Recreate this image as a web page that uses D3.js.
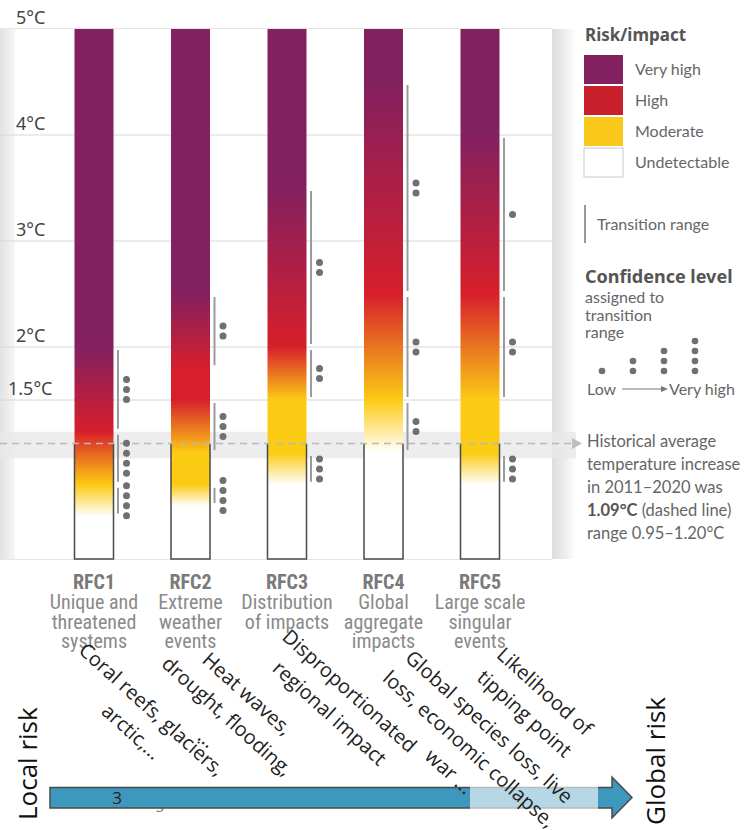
<!DOCTYPE html>
<html>
<head>
<meta charset="utf-8">
<script src="https://cdn.jsdelivr.net/npm/d3@7"></script>
<style>
  html, body { margin: 0; padding: 0; background: #fff; }
  svg { display: block; }
  .tick-label { font-family: "Noto Sans", "Open Sans", sans-serif; font-size: 18px; fill: #444; }
  .cat-head { font-family: "Roboto", sans-serif; font-stretch: condensed; font-weight: bold; font-size: 20px; fill: #7a7a7a; }
  .cat-sub { font-family: "Roboto", sans-serif; font-stretch: condensed; font-size: 20px; fill: #8a8a8a; }
  .legend-title { font-family: "Noto Sans", "Open Sans", sans-serif; font-weight: bold; font-size: 17px; fill: #555; }
  .legend-text { font-family: "Lato", "Noto Sans", sans-serif; font-size: 16px; fill: #666; }
  .note { font-family: "Open Sans", "Noto Sans", sans-serif; font-size: 20px; fill: #222; }
  .axis-end { font-family: "Open Sans", "Noto Sans", sans-serif; font-size: 26px; fill: #111; }
</style>
</head>
<body>
<svg id="chart" width="744" height="830"></svg>
<script>
// Reasons for concern (RFC) and their descriptions
const categories = ["RFC1", "RFC2", "RFC3", "RFC4", "RFC5"];
const subtitles = [
  ["Unique and", "threatened", "systems"],
  ["Extreme", "weather", "events"],
  ["Distribution", "of impacts"],
  ["Global", "aggregate", "impacts"],
  ["Large scale", "singular", "events"]
];

// Transition ranges (°C of warming) between risk levels, one pair per RFC
const undetectableToModerate = [[0.4, 0.7], [0.5, 0.7], [0.7, 1.0], [1.0, 1.5], [0.7, 1.0]];
const moderateToHigh        = [[0.7, 1.2], [1.0, 1.5], [1.5, 2.0], [1.5, 2.5], [1.5, 2.5]];
const highToVeryHigh        = [[1.2, 2.0], [1.8, 2.5], [2.0, 3.5], [2.5, 4.5], [2.5, 4.0]];

// Confidence level of each transition (1 = low ... 4 = very high)
const confUndetectableToModerate = [4, 4, 3, 2, 3];
const confModerateToHigh         = [4, 3, 2, 2, 2];
const confHighToVeryHigh         = [3, 2, 2, 2, 1];

// Temperature axis
const tickValues = [1.5, 2, 3, 4, 5];
const tickLabels = ["1.5°C", "2°C", "3°C", "4°C", "5°C"];
const maxWarming = 5;

// Observed warming 2011–2020
const historicalMean = 1.09;
const historicalRange = [0.95, 1.20];

// Risk levels
const riskLevels = ["Very high", "High", "Moderate", "Undetectable"];
const riskColors = ["#83205f", "#c8202a", "#f9c81a", "#ffffff"];
const confidenceSteps = [1, 2, 3, 4];

// Illustrative examples written under each RFC
const notes = [
  ["Coral reefs, glaciers,", "arctic,..."],
  ["Heat waves,", "drought, flooding,", "..."],
  ["Disproportionated", "regional impact"],
  ["Global species loss, live", "loss, economic collapse,", "war ..."],
  ["Likelihood of", "tipping point"]
];
const riskAxisLabels = ["Local risk", "Global risk"];
const riskAxisMarks = ["3", "3"];

// ---------------------------------------------------------------
const svg = d3.select("#chart");
const W = 744, H = 830;
const plot = { left: 0, right: 552, top: 29, bottom: 559 };
const barW = 39;

const y = d3.scaleLinear().domain([0, maxWarming]).range([plot.bottom, plot.top]);
const x = d3.scalePoint().domain(categories).range([94, 480]);

const defs = svg.append("defs");

// Side shading of the panel
const lg = defs.append("linearGradient").attr("id", "shadeLeft").attr("x1", 0).attr("x2", 1);
lg.append("stop").attr("offset", 0).attr("stop-color", "#e2e2e2");
lg.append("stop").attr("offset", 1).attr("stop-color", "#f7f7f7");
const rg = defs.append("linearGradient").attr("id", "shadeRight").attr("x1", 0).attr("x2", 1);
rg.append("stop").attr("offset", 0).attr("stop-color", "#dcdcdc");
rg.append("stop").attr("offset", 0.5).attr("stop-color", "#ececec");
rg.append("stop").attr("offset", 1).attr("stop-color", "#ffffff");

svg.append("rect").attr("width", W).attr("height", H).attr("fill", "#fff");
svg.append("rect").attr("x", 0).attr("y", plot.top).attr("width", 15)
  .attr("height", plot.bottom - plot.top).attr("fill", "url(#shadeLeft)");
svg.append("rect").attr("x", plot.right).attr("y", plot.top).attr("width", 24)
  .attr("height", plot.bottom - plot.top).attr("fill", "url(#shadeRight)");

// Historical range band
svg.append("rect")
  .attr("x", 0).attr("width", 576)
  .attr("y", y(historicalRange[1]))
  .attr("height", y(historicalRange[0]) - y(historicalRange[1]))
  .attr("fill", "#e8e8e8").attr("opacity", 0.8);

// Gridlines
svg.append("g").selectAll("line")
  .data(tickValues.filter(d => d < maxWarming))
  .join("line")
  .attr("x1", plot.left).attr("x2", plot.right)
  .attr("y1", d => y(d)).attr("y2", d => y(d))
  .attr("stroke", "#d8d8d8").attr("stroke-width", 1);
svg.append("line").attr("x1", 0).attr("x2", plot.right)
  .attr("y1", plot.top - 0.5).attr("y2", plot.top - 0.5).attr("stroke", "#e6e6e6");
svg.append("line").attr("x1", 0).attr("x2", plot.right)
  .attr("y1", plot.bottom + 0.5).attr("y2", plot.bottom + 0.5).attr("stroke", "#e6e6e6");

// Tick labels
svg.append("g").selectAll("text")
  .data(tickValues)
  .join("text")
  .attr("class", "tick-label")
  .attr("x", (d, i) => tickLabels[i].length > 3 ? 8 : 16)
  .attr("y", d => y(d) - 5)
  .text((d, i) => tickLabels[i]);

// Gradient of each burning ember
const colVH = riskColors[0], colH = "#d71f2b", colM = "#fccb14", colU = "#ffffff";
categories.forEach((c, i) => {
  const g = defs.append("linearGradient")
    .attr("id", "ember" + i)
    .attr("gradientUnits", "userSpaceOnUse")
    .attr("x1", 0).attr("x2", 0)
    .attr("y1", y(0)).attr("y2", y(maxWarming));
  const stops = [
    [0, colU],
    [undetectableToModerate[i][0], colU],
    [undetectableToModerate[i][1], colM],
    [moderateToHigh[i][0], colM],
    [moderateToHigh[i][1], colH],
    [highToVeryHigh[i][0], colH],
    [highToVeryHigh[i][1], colVH],
    [maxWarming, colVH]
  ];
  g.selectAll("stop").data(stops).join("stop")
    .attr("offset", d => d[0] / maxWarming)
    .attr("stop-color", d => d[1]);
});

// Embers
svg.append("g").selectAll("rect")
  .data(categories)
  .join("rect")
  .attr("x", d => x(d) - barW / 2)
  .attr("y", y(maxWarming))
  .attr("width", barW)
  .attr("height", y(0) - y(maxWarming))
  .attr("fill", (d, i) => `url(#ember${i})`);

// Outline of the part already reached
svg.append("g").selectAll("path")
  .data(categories)
  .join("path")
  .attr("d", d => {
    const l = x(d) - barW / 2, r = x(d) + barW / 2;
    return `M${l},${y(historicalMean)}V${y(0)}H${r}V${y(historicalMean)}`;
  })
  .attr("fill", "none").attr("stroke", "#4a4a4a").attr("stroke-width", 1.5);

// Historical dashed line + pointer
svg.append("line")
  .attr("x1", 0).attr("x2", 572)
  .attr("y1", y(historicalMean)).attr("y2", y(historicalMean))
  .attr("stroke", "#b9b9b9").attr("stroke-width", 1.5).attr("stroke-dasharray", "7,5");
svg.append("path")
  .attr("d", `M572,${y(historicalMean) - 5.5}L582,${y(historicalMean)}L572,${y(historicalMean) + 5.5}Z`)
  .attr("fill", "#bdbdbd");

// Transition ranges with confidence dots
const transitions = [];
categories.forEach((c, i) => {
  [[undetectableToModerate, confUndetectableToModerate],
   [moderateToHigh, confModerateToHigh],
   [highToVeryHigh, confHighToVeryHigh]].forEach(([rng, conf]) => {
    transitions.push({ cat: c, lo: rng[i][0], hi: rng[i][1], conf: conf[i] });
  });
});
const tg = svg.append("g");
tg.selectAll("line")
  .data(transitions)
  .join("line")
  .attr("x1", d => x(d.cat) + barW / 2 + 4.5)
  .attr("x2", d => x(d.cat) + barW / 2 + 4.5)
  .attr("y1", d => y(d.hi) + 3)
  .attr("y2", d => y(d.lo) - 3)
  .attr("stroke", "#9b9b9b").attr("stroke-width", 2);
const dots = [];
transitions.forEach(t => {
  const mid = y((t.lo + t.hi) / 2);
  for (let k = 0; k < t.conf; k++) {
    dots.push({ cx: x(t.cat) + barW / 2 + 13, cy: mid + (k - (t.conf - 1) / 2) * 10 });
  }
});
tg.selectAll("circle").data(dots).join("circle")
  .attr("cx", d => d.cx).attr("cy", d => d.cy).attr("r", 3.5)
  .attr("fill", "#707070");

// Category labels
const cl = svg.append("g").selectAll("g").data(categories).join("g")
  .attr("transform", d => `translate(${x(d)},0)`);
cl.append("text").attr("class", "cat-head").attr("text-anchor", "middle")
  .attr("y", 589).text(d => d);
cl.each(function (d, i) {
  d3.select(this).selectAll("text.cat-sub").data(subtitles[i]).join("text")
    .attr("class", "cat-sub").attr("text-anchor", "middle")
    .attr("y", (s, j) => 609 + j * 19.5).text(s => s);
});

// Legend: risk levels
const legend = svg.append("g");
legend.append("text").attr("class", "legend-title").attr("x", 585).attr("y", 41).text("Risk/impact");
const lr = legend.selectAll("g.lv").data(riskLevels).join("g").attr("class", "lv")
  .attr("transform", (d, i) => `translate(584,${55 + i * 31})`);
lr.append("rect").attr("width", 39).attr("height", 29)
  .attr("fill", (d, i) => riskColors[i])
  .attr("stroke", (d, i) => i === 3 ? "#c8c8c8" : "none");
lr.append("text").attr("class", "legend-text").attr("x", 51).attr("y", 20).text(d => d);

legend.append("line").attr("x1", 585).attr("x2", 585).attr("y1", 205).attr("y2", 243)
  .attr("stroke", "#9b9b9b").attr("stroke-width", 2);
legend.append("text").attr("class", "legend-text").attr("x", 597).attr("y", 230).text("Transition range");

legend.append("text").attr("class", "legend-title").attr("x", 585).attr("y", 283)
  .style("font-size", "18px").text("Confidence level");
["assigned to", "transition", "range"].forEach((t, i) => {
  legend.append("text").attr("class", "legend-text").attr("x", 585).attr("y", 303 + i * 17.5).text(t);
});
const confX = d3.scalePoint().domain(confidenceSteps).range([602, 695]);
confidenceSteps.forEach(n => {
  for (let k = 0; k < n; k++) {
    legend.append("circle").attr("cx", confX(n)).attr("cy", 371 - k * 10).attr("r", 3.3).attr("fill", "#707070");
  }
});
legend.append("text").attr("class", "legend-text").attr("x", 587).attr("y", 395).text("Low");
legend.append("line").attr("x1", 622).attr("x2", 662).attr("y1", 389).attr("y2", 389)
  .attr("stroke", "#777").attr("stroke-width", 1);
legend.append("path").attr("d", "M661,386L668,389L661,392Z").attr("fill", "#777");
legend.append("text").attr("class", "legend-text").attr("x", 669).attr("y", 395).text("Very high");

const histLines = ["Historical average", "temperature increase", "in 2011–2020 was"];
histLines.forEach((t, i) => {
  legend.append("text").attr("class", "legend-text").style("font-size", "16.5px")
    .attr("x", 587).attr("y", 447 + i * 23).text(t);
});
const hl = legend.append("text").attr("class", "legend-text").style("font-size", "16.5px")
  .attr("x", 587).attr("y", 447 + 3 * 23);
hl.append("tspan").attr("font-weight", "bold").attr("fill", "#555").text(historicalMean.toFixed(2) + "°C");
hl.append("tspan").text(" (dashed line)");
legend.append("text").attr("class", "legend-text").style("font-size", "16.5px")
  .attr("x", 587).attr("y", 447 + 4 * 23)
  .text(`range ${historicalRange[0].toFixed(2)}–${historicalRange[1].toFixed(2)}°C`);

// Local → global risk arrow
const arrow = svg.append("g");
arrow.append("text").attr("x", 160).attr("y", 812).attr("text-anchor", "middle")
  .attr("font-family", "Open Sans, sans-serif").attr("font-size", 14).attr("fill", "#777")
  .text(riskAxisMarks[1]);
arrow.append("path")
  .attr("d", "M50,787.5H612V777L632,797.5L612,818V808H50Z")
  .attr("fill", "#3e97bd").attr("stroke", "#4a4a4a").attr("stroke-width", 1.5)
  .attr("stroke-linejoin", "miter");
arrow.append("rect").attr("x", 470).attr("y", 786).attr("width", 128).attr("height", 23)
  .attr("fill", "#ffffff").attr("opacity", 0.62);
arrow.append("text").attr("x", 117).attr("y", 804).attr("text-anchor", "middle")
  .attr("font-family", "Open Sans, sans-serif").attr("font-size", 17).attr("fill", "#222")
  .text(riskAxisMarks[0]);
svg.append("text").attr("class", "axis-end")
  .attr("transform", "translate(37,820) rotate(-90)").text(riskAxisLabels[0]);
svg.append("text").attr("class", "axis-end")
  .attr("transform", "translate(665,825) rotate(-90)").text(riskAxisLabels[1]);

// Example notes, slanted under the RFC labels
const notePos = [[152, 709], [247.5, 693.5], [350, 690.5], [489.5, 726.5], [545, 691]];
const ng = svg.append("g");
notes.forEach((lines, i) => {
  const t = ng.append("text").attr("class", "note")
    .attr("text-anchor", "middle")
    .attr("transform", `translate(${notePos[i][0]},${notePos[i][1]}) rotate(42)`);
  t.selectAll("tspan").data(lines).join("tspan")
    .attr("x", 0).attr("y", (d, j) => j * 30)
    .attr("dominant-baseline", "central")
    .text(d => d);
});
</script>
</body>
</html>
